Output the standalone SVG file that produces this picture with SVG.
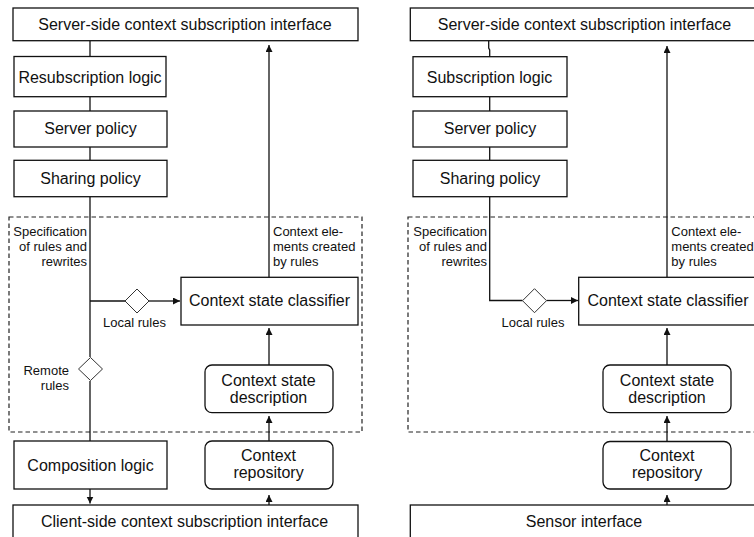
<svg xmlns="http://www.w3.org/2000/svg" width="754" height="537" viewBox="0 0 754 537">
<style>
.box{fill:#fff;stroke:#111;stroke-width:1.3}
.dash{fill:none;stroke:#222;stroke-width:1.2;stroke-dasharray:4.5,3}
.dia{fill:#fff;stroke:#333;stroke-width:1}
.ln{fill:none;stroke:#111;stroke-width:1.3}
.t{font-family:"Liberation Sans",Arial,sans-serif;font-size:16px;fill:#111;text-anchor:middle}
.s{font-family:"Liberation Sans",Arial,sans-serif;font-size:13px;fill:#111}
.r{text-anchor:end}
.m{text-anchor:middle}
</style>
<defs>
<marker id="ah" markerUnits="userSpaceOnUse" markerWidth="8" markerHeight="8" refX="7" refY="3.5" orient="auto">
<path d="M0,0 L7,3.5 L0,7 z" fill="#111"/>
</marker>
</defs>
<rect width="754" height="537" fill="#fff"/>

<!-- dashed groups -->
<rect id="groupL" class="dash" x="9" y="217" width="353" height="215"/>
<rect id="groupR" class="dash" x="408" y="217" width="360" height="215"/>

<g id="connectors">
<line class="ln" x1="90" y1="41" x2="90" y2="56"/>
<line class="ln" x1="90" y1="97" x2="90" y2="111"/>
<line class="ln" x1="90" y1="147" x2="90" y2="160"/>
<line class="ln" x1="90" y1="197" x2="90" y2="357"/>
<line class="ln" x1="90" y1="381" x2="90" y2="441"/>
<line class="ln" x1="90" y1="301" x2="125" y2="301"/>
<line class="ln" x1="149" y1="301" x2="180" y2="301" marker-end="url(#ah)"/>
<line class="ln" x1="269" y1="277" x2="269" y2="45" marker-end="url(#ah)"/>
<line class="ln" x1="269" y1="365" x2="269" y2="328" marker-end="url(#ah)"/>
<line class="ln" x1="269" y1="441" x2="269" y2="416" marker-end="url(#ah)"/>
<line class="ln" x1="269" y1="505" x2="269" y2="495" marker-end="url(#ah)"/>
<line class="ln" x1="90" y1="489" x2="90" y2="503.5" marker-end="url(#ah)"/>

<path class="ln" d="M488.7,41 V48 L489.7,50 V57"/>
<line class="ln" x1="489.7" y1="97" x2="489.7" y2="111"/>
<line class="ln" x1="489.7" y1="147" x2="489.7" y2="160"/>
<path class="ln" d="M489.7,197 V300.5 H522.5"/>
<line class="ln" x1="546.5" y1="300.5" x2="578" y2="300.5" marker-end="url(#ah)"/>
<line class="ln" x1="667" y1="277" x2="667" y2="46" marker-end="url(#ah)"/>
<line class="ln" x1="667" y1="365" x2="667" y2="328" marker-end="url(#ah)"/>
<line class="ln" x1="667" y1="441" x2="667" y2="416" marker-end="url(#ah)"/>
<line class="ln" x1="667" y1="505" x2="667" y2="495" marker-end="url(#ah)"/>
</g>

<!-- Left panel -->
<g id="L_server">
<rect class="box" x="13" y="8" width="345" height="32.7"/>
<text class="t" x="185" y="30">Server-side context subscription interface</text>
</g>
<g id="L_resub">
<rect class="box" x="14" y="56.5" width="152" height="40.2"/>
<text class="t" x="90" y="83">Resubscription logic</text>
</g>
<g id="L_serverpolicy">
<rect class="box" x="14" y="111" width="153" height="36"/>
<text class="t" x="90.5" y="133.5">Server policy</text>
</g>
<g id="L_sharing">
<rect class="box" x="14" y="160.3" width="153" height="36.4"/>
<text class="t" x="90.5" y="184.3">Sharing policy</text>
</g>
<g id="L_classifier">
<rect class="box" x="181" y="277.3" width="177" height="47.7"/>
<text class="t" x="269.5" y="306">Context state classifier</text>
</g>
<g id="L_localrules">
<path class="dia" d="M137,289 L149,301 L137,313 L125,301 z"/>
<text class="s m" x="134.5" y="327">Local rules</text>
</g>
<g id="L_remoterules">
<path class="dia" d="M90.5,357.5 L102.5,369 L90.5,380.5 L78.5,369 z"/>
<text class="s r" x="69" y="375">Remote</text>
<text class="s r" x="69" y="390">rules</text>
</g>
<g id="L_spec">
<text class="s r" x="87" y="236">Specification</text>
<text class="s r" x="87" y="251">of rules and</text>
<text class="s r" x="87" y="266">rewrites</text>
</g>
<g id="L_elems">
<text class="s" x="273" y="236">Context ele-</text>
<text class="s" x="273" y="251">ments created</text>
<text class="s" x="273" y="266">by rules</text>
</g>
<g id="L_desc">
<rect class="box" x="205" y="365" width="128" height="47.7" rx="7"/>
<text class="t" x="268.5" y="386">Context state</text>
<text class="t" x="268.5" y="403">description</text>
</g>
<g id="L_comp">
<rect class="box" x="14" y="441" width="153" height="48"/>
<text class="t" x="90.5" y="470.5">Composition logic</text>
</g>
<g id="L_repo">
<rect class="box" x="205" y="441" width="128" height="48" rx="7"/>
<text class="t" x="268.5" y="460.5">Context</text>
<text class="t" x="268.5" y="477.5">repository</text>
</g>
<g id="L_client">
<rect class="box" x="13" y="505" width="345" height="40"/>
<text class="t" x="184.5" y="526.5">Client-side context subscription interface</text>
</g>

<!-- Right panel -->
<g id="R_server">
<rect class="box" x="410.3" y="8" width="360" height="32.7"/>
<text class="t" x="584.5" y="30">Server-side context subscription interface</text>
</g>
<g id="R_sub">
<rect class="box" x="413" y="56.7" width="154" height="40"/>
<text class="t" x="489.5" y="83">Subscription logic</text>
</g>
<g id="R_serverpolicy">
<rect class="box" x="413" y="111" width="154" height="36"/>
<text class="t" x="490" y="133.5">Server policy</text>
</g>
<g id="R_sharing">
<rect class="box" x="413" y="160.3" width="154" height="36.4"/>
<text class="t" x="490" y="184.3">Sharing policy</text>
</g>
<g id="R_classifier">
<rect class="box" x="578.7" y="277.3" width="190" height="47.7"/>
<text class="t" x="668" y="306">Context state classifier</text>
</g>
<g id="R_localrules">
<path class="dia" d="M534.5,288.7 L546.5,300.7 L534.5,312.7 L522.5,300.7 z"/>
<text class="s m" x="533" y="327">Local rules</text>
</g>
<g id="R_spec">
<text class="s r" x="487" y="236">Specification</text>
<text class="s r" x="487" y="251">of rules and</text>
<text class="s r" x="487" y="266">rewrites</text>
</g>
<g id="R_elems">
<text class="s" x="671.3" y="236">Context ele-</text>
<text class="s" x="671.3" y="251">ments created</text>
<text class="s" x="671.3" y="266">by rules</text>
</g>
<g id="R_desc">
<rect class="box" x="603" y="365" width="128" height="47.7" rx="7"/>
<text class="t" x="667" y="386">Context state</text>
<text class="t" x="667" y="403">description</text>
</g>
<g id="R_repo">
<rect class="box" x="603" y="441.5" width="128" height="47.5" rx="7"/>
<text class="t" x="667" y="460.5">Context</text>
<text class="t" x="667" y="477.5">repository</text>
</g>
<g id="R_sensor">
<rect class="box" x="410.3" y="505" width="360" height="40"/>
<text class="t" x="584" y="526.5">Sensor interface</text>
</g>
</svg>
